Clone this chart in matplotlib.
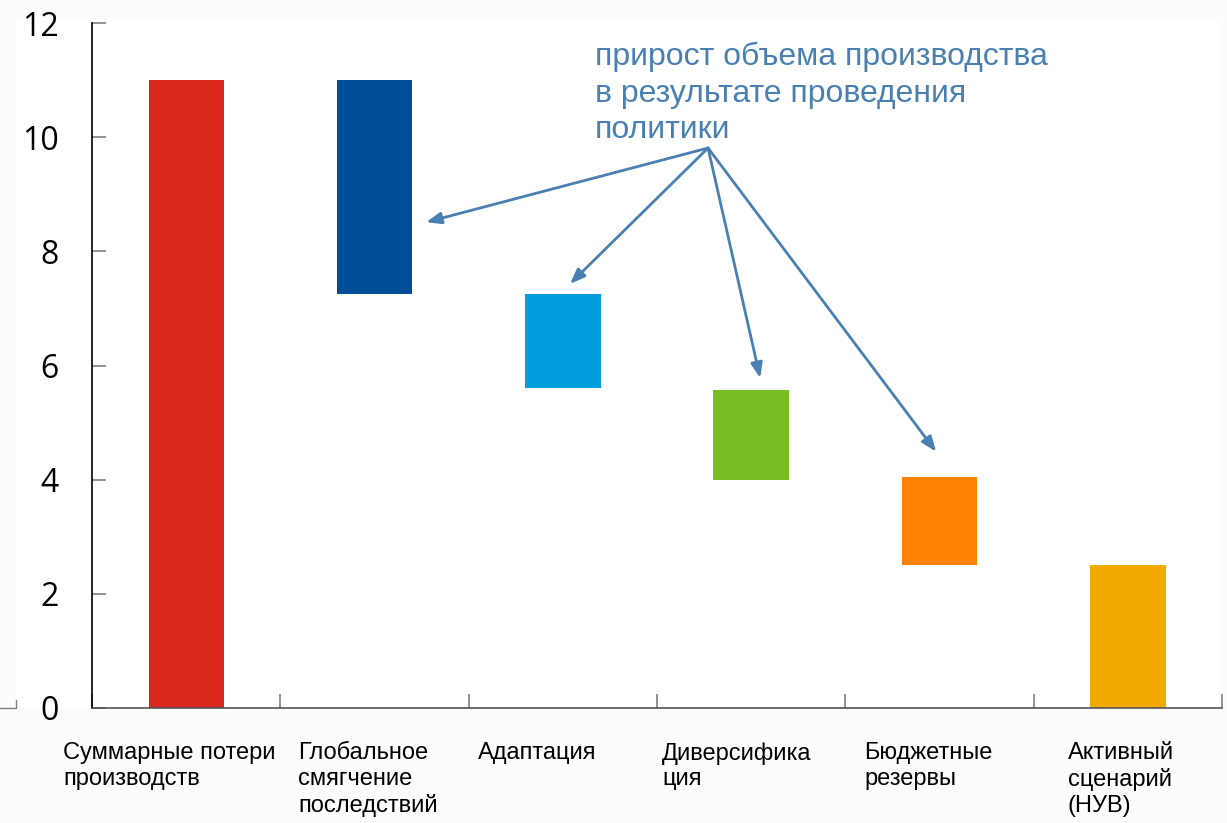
import matplotlib
matplotlib.use("Agg")
import matplotlib.pyplot as plt
from matplotlib.patches import Rectangle
from matplotlib.lines import Line2D

categories = ["Суммарные потери\nпроизводств", "Глобальное\nсмягчение\nпоследствий",
              "Адаптация", "Диверсифика\nция", "Бюджетные\nрезервы",
              "Активный\nсценарий\n(НУВ)"]
bar_bottom = [0.0, 7.25, 5.6, 4.0, 2.5, 0.0]
bar_top = [11.0, 11.0, 7.25, 5.57, 4.05, 2.5]
colors = ["#d9271d", "#004e98", "#009ede", "#78bd22", "#ff8300", "#f0a900"]
yticks = [0, 2, 4, 6, 8, 10, 12]
annot_text = "прирост объема производства\nв результате проведения\nполитики"
arrow_origin = (2.771, 9.81)
arrow_targets = [(1.274, 8.51), (2.038, 7.43), (3.048, 5.78), (3.982, 4.49)]
label_offsets = [-0.654, -0.406, -0.45, -0.473, -0.40, -0.32]

fig = plt.figure(figsize=(12.27, 8.23), dpi=100, facecolor="#fcfcfc")
bg = fig.add_axes([17/1227, 1-708/823, (1222-17)/1227, (708-22)/823], zorder=-5)
bg.set_facecolor("white")
bg.axis("off")
bg.add_patch(Rectangle((0, 0), 1, 1, transform=bg.transAxes, facecolor="white",
                       edgecolor="none"))
# small frame corner at left
fig.lines.append(Line2D([0, 16/1227, 16/1227], [1-708/823, 1-708/823, 1-700/823],
                        transform=fig.transFigure, color="#808080", lw=1))

ax = fig.add_axes([92/1227, 1-708/823, (1222-92)/1227, (708-23)/823])
ax.patch.set_alpha(0)
x = list(range(len(categories)))
heights = [t - b for t, b in zip(bar_top, bar_bottom)]
ax.bar(x, heights, bottom=bar_bottom, width=0.4, color=colors, zorder=2)

ax.set_xlim(-0.5, len(categories) - 0.5)
ax.set_ylim(0, 12)
ax.set_yticks(yticks)
ax.set_yticklabels([str(v) for v in yticks], fontsize=23, family="Open Sans")
ax.tick_params(axis="y", direction="in", length=10, color="#808080", pad=24, width=1.2)
ax.set_xticks([i - 0.5 for i in range(len(categories) + 1)])
ax.set_xticklabels([])
ax.tick_params(axis="x", direction="in", length=10, color="#808080", width=1.2)
for s in ["top", "right"]:
    ax.spines[s].set_visible(False)
ax.spines["left"].set_color("black")
ax.spines["left"].set_linewidth(1.2)
ax.spines["bottom"].set_color("#555555")
ax.spines["bottom"].set_linewidth(1.2)

for i, (lab, off) in enumerate(zip(categories, label_offsets)):
    ax.text(i + off, -0.6, lab, ha="left", va="top", fontsize=17,
            family="Liberation Sans", color="black", linespacing=1.22,
            clip_on=False)

tc = "#4a80b1"
ax.text(2.771 - (708 - 595) / 188.3, 12 - (42 - 23) / 57.08, annot_text,
        ha="left", va="top", fontsize=23, family="Liberation Sans", color=tc,
        linespacing=1.27)
for tx, ty in arrow_targets:
    ax.annotate("", xy=(tx, ty), xytext=arrow_origin,
                arrowprops=dict(arrowstyle="-|>,head_length=0.9,head_width=0.35",
                                color=tc, lw=2, shrinkA=0, shrinkB=0))

fig.savefig("out.png", dpi=100, facecolor=fig.get_facecolor())
